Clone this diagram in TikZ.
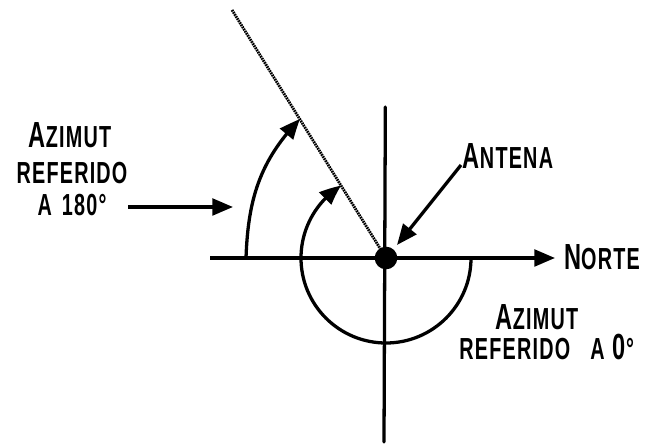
\documentclass[tikz,border=0pt]{standalone}
\usepackage{fontspec}
\newfontfamily\letterfont[FakeStretch=0.65, LetterSpace=4]{Liberation Sans Bold}
\usetikzlibrary{arrows.meta,bending}
\newcommand{\bigini}[1]{{\fontsize{31}{31}\selectfont #1}}
\tikzset{
  axis/.style={line width=2.8pt, draw=black, line cap=round},
  ray/.style={line width=2.4pt, draw=black, dash pattern=on 1.4pt off 0.7pt},
  azarc/.style={line width=2.8pt, draw=black, -{Triangle[length=0.62cm, width=0.5cm, bend]}},
  pointer/.style={line width=2.8pt, draw=black, -{Triangle[length=0.62cm, width=0.5cm]}},
  antdot/.style={circle, fill=black, minimum size=0.68cm, inner sep=0pt},
  lbl/.style={font=\letterfont\fontsize{26}{26}\selectfont, inner sep=0pt,
    text height=0.68cm, text depth=0cm},
}
\begin{document}
\begin{tikzpicture}
\useasboundingbox (0,0) rectangle (19.38,13.32);
% points of the drawing
\coordinate (westend) at (6.30,5.58);
\coordinate (northtip) at (16.65,5.58);
\coordinate (topend) at (11.56,10.11);
\coordinate (botend) at (11.52,0.06);
\coordinate (rayend) at (6.96,13.02);
\coordinate (outerstart) at (7.38,5.58);
\coordinate (outerend) at (9.00,9.75);
\coordinate (innerstart) at (14.13,5.58);
\coordinate (lefttail) at (3.84,7.11);
\coordinate (lefttip) at (6.99,7.11);
\coordinate (anttail) at (13.83,8.37);
\coordinate (anttip) at (11.91,5.97);
% axes and antenna
\draw[axis] (topend) -- (botend);
\draw[pointer] (westend) -- (northtip);
\draw[ray] (rayend) -- (11.58,5.58);
\node[antdot] (ant) at (11.58,5.58) {};
% azimuth arcs
\draw[azarc] (outerstart) to[out=88, in=226] (outerend);
\draw[azarc] (innerstart) arc[start angle=0, end angle=-238.2, radius=2.55];
% pointers
\draw[pointer] (lefttail) -- (lefttip);
\draw[pointer] (anttail) -- (anttip);
% labels
\node[lbl] (az180) at (2.10,9.24) {\bigini{A}ZIMUT};
\node[lbl] (ref180) at (2.16,8.16) {REFERIDO};
\node[lbl] (a180) at (2.16,7.20) {A\hspace{0.3cm}180°};
\node[lbl] (antena) at (15.24,8.61) {\bigini{A}NTENA};
\node[lbl] (norte) at (18.06,5.58) {\bigini{N}ORTE};
\node[lbl] (az0) at (16.11,3.78) {\bigini{A}ZIMUT};
\node[lbl] (ref0) at (16.40,2.88) {REFERIDO\hspace{0.6cm}A\hspace{0.25cm}\bigini{0}°};
\end{tikzpicture}
\end{document}
